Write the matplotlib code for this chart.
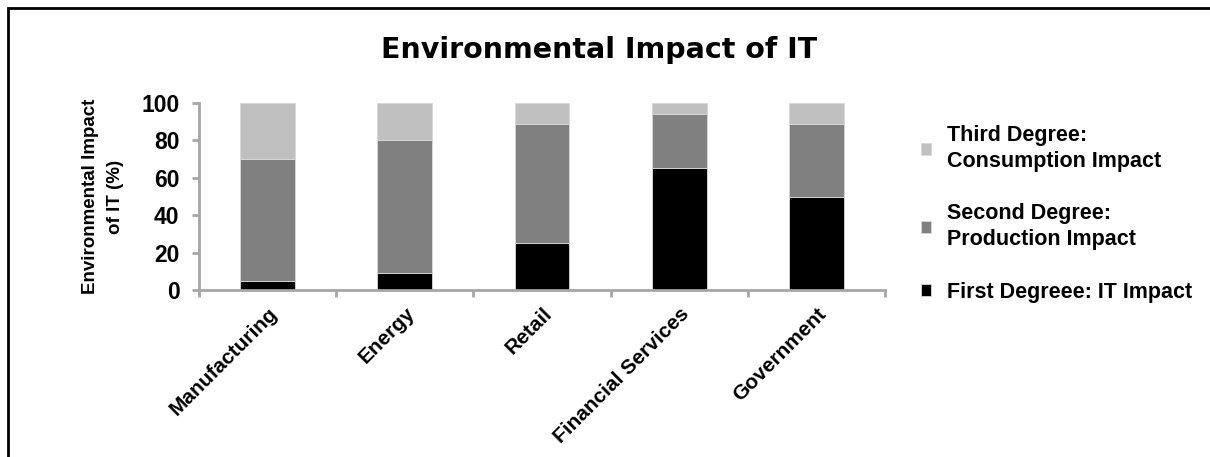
import matplotlib.pyplot as plt
import numpy as np
from matplotlib.patches import Rectangle

# --- data ---
sectors = ["Manufacturing", "Energy", "Retail", "Financial Services", "Government"]
first_degree = [5, 9, 25, 65, 50]     # IT impact
second_degree = [65, 71, 64, 29, 39]  # production impact
third_degree = [30, 20, 11, 6, 11]    # consumption impact

series_labels = ["First Degreee: IT Impact",
                 "Second Degree:\nProduction Impact",
                 "Third Degree:\nConsumption Impact"]
colors = ["#000000", "#808080", "#c0c0c0"]

plt.rcParams['font.family'] = ['Liberation Sans', 'DejaVu Sans']

fig = plt.figure(figsize=(12.1, 4.57), dpi=100)
ax = fig.add_axes([0.1645, 0.3654, 0.5669, 0.4092])

x = np.arange(len(sectors))
bottom = np.zeros(len(sectors))
handles = []
for vals, col, lab in zip([first_degree, second_degree, third_degree], colors, series_labels):
    h = ax.bar(x, vals, width=0.4, bottom=bottom, color=col, label=lab,
               edgecolor="#d9d9d9", linewidth=0.6)
    handles.append(h)
    bottom += np.array(vals)

ax.set_xlim(-0.5, len(sectors) - 0.5)
ax.set_ylim(0, 100)
ax.set_yticks(range(0, 101, 20))
ax.set_xticks(x)
ax.set_xticklabels(sectors, rotation=45, ha='right', va='top',
                   rotation_mode='anchor', fontsize=15, fontweight='bold')
ax.set_xticks(np.arange(-0.5, len(sectors)), minor=True)
ax.tick_params(axis='x', which='major', length=0, pad=10)
ax.tick_params(axis='x', which='minor', length=5, width=2, color='#a6a6a6')
ax.tick_params(axis='y', length=5, width=2, color='#a6a6a6', pad=9)
for t in ax.get_yticklabels():
    t.set_fontsize(16.5)
    t.set_fontweight('bold')

for s in ['top', 'right']:
    ax.spines[s].set_visible(False)
for s in ['left', 'bottom']:
    ax.spines[s].set_color('#a6a6a6')
    ax.spines[s].set_linewidth(2)

fig.text(0.0851, 0.57, "Environmental Impact\nof IT (%)", rotation=90,
         ha='center', va='center', multialignment='center',
         fontsize=13.5, fontweight='bold', linespacing=1.6)

fig.text(0.495, 0.89, "Environmental Impact of IT", ha='center', va='center',
         fontsize=20.5, fontweight='bold', family=['DejaVu Sans'])

leg = fig.legend(handles[::-1], [h.get_label() for h in handles[::-1]],
                 loc='upper left', bbox_to_anchor=(0.752, 0.749), frameon=False,
                 prop={'size': 15.5, 'weight': 'bold'}, handlelength=0.5, handleheight=0.5,
                 handletextpad=0.7, labelspacing=1.45, borderpad=0)
for t in leg.get_texts():
    t.set_linespacing(1.3)

# outer frame around the whole chart
fig.add_artist(Rectangle((0.0066, -0.05), 1.2, 1.032, transform=fig.transFigure,
                         fill=False, edgecolor='black', linewidth=2))

fig.savefig("out.png", dpi=100)
